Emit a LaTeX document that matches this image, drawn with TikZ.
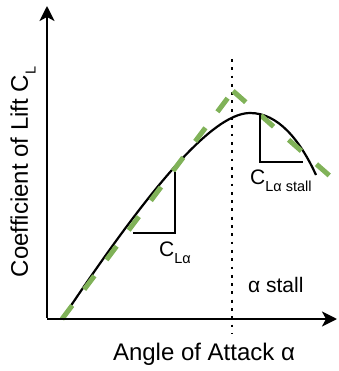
\documentclass[tikz,border=0pt]{standalone}
\usepackage{fontspec}
\setmainfont{Liberation Sans}
\usetikzlibrary{arrows.meta}
\definecolor{fitgreen}{RGB}{128,178,88}
\tikzset{
  axisline/.style={line width=2.6pt,-{Stealth[length=15pt,width=15pt,inset=4pt]}},
  curveline/.style={line width=2.2pt,black},
  fitline/.style={line width=5pt,fitgreen,dash pattern=on 17pt off 20pt},
  triline/.style={line width=2.2pt,black},
  dotline/.style={line width=2.8pt,dash pattern=on 2.8pt off 5.5pt},
  biglabel/.style={font=\fontsize{24}{28}\selectfont,inner sep=0pt},
  smalllabel/.style={font=\fontsize{21}{24}\selectfont,inner sep=0pt}
}
\newcommand{\subtxt}[1]{\raisebox{-0.32em}{\fontsize{14.5}{16}\selectfont #1}}
\begin{document}
\begin{tikzpicture}[x=1pt,y=-1pt]
\useasboundingbox (0,0) rectangle (338,371);
% coordinates
\coordinate (O) at (47,319);
\coordinate (xtip) at (337,319);
\coordinate (ytip) at (47,6);
\coordinate (start) at (62,319);
\coordinate (peak) at (250,113);
\coordinate (cend) at (316,175);
\coordinate (gpk) at (233,91);
\coordinate (gend) at (331,177);
\coordinate (dtop) at (232,59);
\coordinate (dbot) at (232,334);
\coordinate (t1top) at (175,172);
\coordinate (t1cor) at (175,233);
\coordinate (t1left) at (133,233);
\coordinate (t2top) at (260,114);
\coordinate (t2cor) at (260,162);
\coordinate (t2right) at (303,162);
% dotted stall line
\draw[dotline] (dtop) -- (dbot);
% black curve
\draw[curveline] (start) .. controls (142,199) and (210,113) .. (peak)
  .. controls (278,113) and (300,140) .. (cend);
% green fit lines
\draw[fitline] (start) -- (gpk);
\draw[fitline] (gpk) -- (gend);
% slope triangles
\draw[triline] (t1top) -- (t1cor) -- (t1left);
\draw[triline] (t2top) -- (t2cor) -- (t2right);
% axes
\draw[axisline] (O) -- (xtip);
\draw[axisline] ([yshift=1.3pt]O) -- (ytip);
% labels
\node[biglabel] (xlab) at (204,354) {Angle of Attack α};
\node[biglabel,rotate=90] (ylab) at (23,172) {Coefficient of Lift C\subtxt{L}};
\node[smalllabel,anchor=west] (cla) at (159,253) {C\subtxt{Lα}};
\node[smalllabel,anchor=west] (clas) at (250,181) {C\subtxt{Lα stall}};
\node[smalllabel,anchor=west] (astall) at (248,285) {α stall};
\end{tikzpicture}
\end{document}
